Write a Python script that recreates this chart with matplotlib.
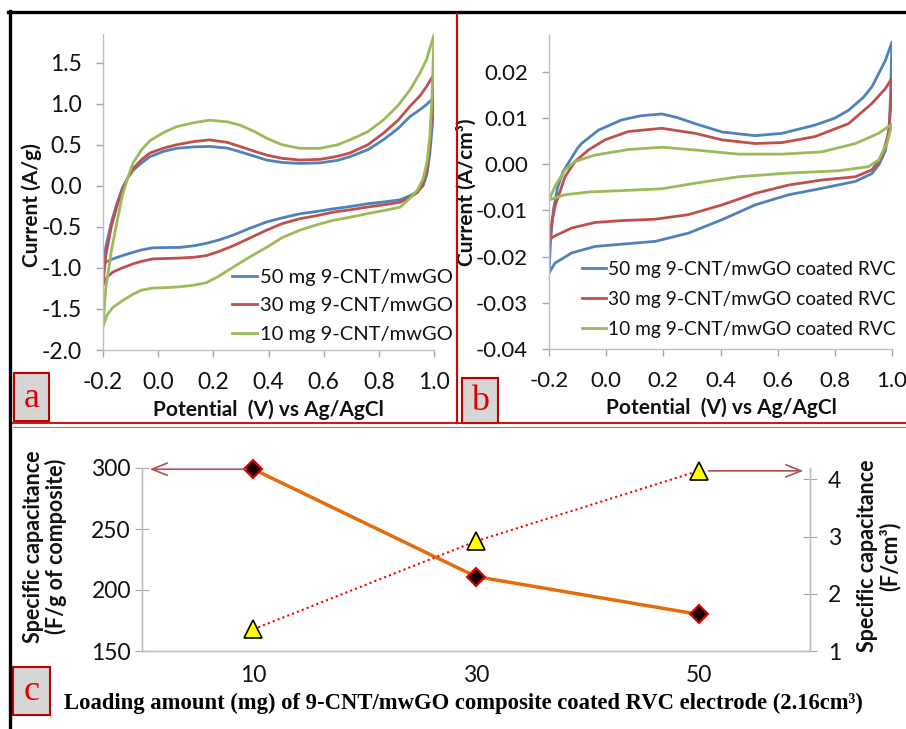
import matplotlib
matplotlib.use("Agg")
import matplotlib.pyplot as plt
from matplotlib.patches import Rectangle
from matplotlib.lines import Line2D

plt.rcParams['font.family'] = ['Lato', 'DejaVu Sans']

# ---------------- Panel a data (A/g) ----------------
a_labels = ['50 mg 9-CNT/mwGO', '30 mg 9-CNT/mwGO', '10 mg 9-CNT/mwGO']
a_up_v = [-0.2, -0.19, -0.17, -0.15, -0.13, -0.11, -0.091, -0.06, -0.03, 0.02, 0.066, 0.13, 0.187,
          0.25, 0.296, 0.35, 0.393, 0.45, 0.514, 0.586, 0.65, 0.695, 0.76, 0.816, 0.87, 0.913, 0.95, 0.973, 1.0]
a_dn_v = [0.993, 0.985, 0.975, 0.96, 0.94, 0.913, 0.877, 0.82, 0.756, 0.7, 0.635, 0.58, 0.514, 0.45,
          0.393, 0.33, 0.272, 0.22, 0.175, 0.13, 0.078, 0.03, -0.019, -0.06, -0.091, -0.13, -0.164, -0.185, -0.2]
a50_up = [-0.95, -0.75, -0.45, -0.22, -0.03, 0.1, 0.19, 0.28, 0.355, 0.42, 0.457, 0.475, 0.48, 0.46,
          0.416, 0.36, 0.314, 0.285, 0.273, 0.28, 0.31, 0.355, 0.44, 0.56, 0.70, 0.845, 0.93, 0.99, 1.08]
a50_dn = [0.7, 0.4, 0.15, 0.0, -0.07, -0.12, -0.17, -0.195, -0.22, -0.25, -0.28, -0.31, -0.34, -0.39,
          -0.44, -0.52, -0.60, -0.66, -0.70, -0.73, -0.75, -0.752, -0.755, -0.78, -0.81, -0.85, -0.89, -0.92, -0.95]
a30_up = [-1.2, -0.85, -0.5, -0.25, -0.05, 0.1, 0.21, 0.32, 0.40, 0.46, 0.50, 0.54, 0.56, 0.53,
          0.48, 0.42, 0.375, 0.335, 0.314, 0.322, 0.36, 0.40, 0.50, 0.64, 0.80, 0.97, 1.1, 1.21, 1.36]
a30_dn = [0.9, 0.5, 0.2, 0.02, -0.08, -0.14, -0.2, -0.23, -0.26, -0.29, -0.32, -0.36, -0.40, -0.46,
          -0.54, -0.64, -0.73, -0.80, -0.85, -0.87, -0.88, -0.885, -0.89, -0.92, -0.95, -1.0, -1.05, -1.11, -1.2]
a10_up = [-1.71, -1.25, -0.8, -0.45, -0.12, 0.1, 0.28, 0.44, 0.55, 0.65, 0.72, 0.77, 0.80, 0.78,
          0.74, 0.66, 0.58, 0.50, 0.457, 0.457, 0.50, 0.56, 0.66, 0.80, 0.98, 1.17, 1.38, 1.54, 1.84]
a10_dn = [1.1, 0.6, 0.3, 0.08, -0.05, -0.15, -0.26, -0.30, -0.34, -0.38, -0.42, -0.47, -0.54, -0.63,
          -0.75, -0.87, -0.99, -1.10, -1.18, -1.21, -1.23, -1.24, -1.245, -1.27, -1.32, -1.40, -1.48, -1.57, -1.71]

# ---------------- Panel b data (A/cm3) ----------------
b_labels = ['50 mg 9-CNT/mwGO coated RVC', '30 mg 9-CNT/mwGO coated RVC', '10 mg 9-CNT/mwGO coated RVC']
b50_up_v = [-0.2, -0.195, -0.185, -0.17, -0.15, -0.125, -0.1, -0.086, -0.027, 0.054, 0.12, 0.195, 0.25,
            0.311, 0.405, 0.521, 0.615, 0.731, 0.8, 0.848, 0.9, 0.93, 0.977, 1.0]
b50_up_i = [-0.0235, -0.017, -0.010, -0.005, -0.0015, 0.001, 0.0035, 0.0045, 0.0074, 0.0096, 0.0105, 0.0109,
            0.0101, 0.0088, 0.0070, 0.0062, 0.0067, 0.0085, 0.0100, 0.0117, 0.0145, 0.0168, 0.0225, 0.0265]
b50_dn_v = [0.995, 0.99, 0.977, 0.955, 0.93, 0.872, 0.755, 0.638, 0.521, 0.405, 0.288, 0.171, 0.054,
            -0.039, -0.121, -0.179, -0.2]
b50_dn_i = [0.015, 0.008, 0.003, 0.0, -0.002, -0.0037, -0.0052, -0.0066, -0.0088, -0.012, -0.0149, -0.0167,
            -0.0173, -0.0178, -0.0192, -0.0214, -0.0235]
b30_up_v = [-0.2, -0.19, -0.179, -0.144, -0.109, -0.062, -0.004, 0.078, 0.195, 0.311, 0.405, 0.521, 0.615,
            0.731, 0.848, 0.93, 0.977, 1.0]
b30_up_i = [-0.0163, -0.0125, -0.0091, -0.0027, 0.0006, 0.0031, 0.0053, 0.0071, 0.0078, 0.0067, 0.0053,
            0.0045, 0.0047, 0.006, 0.0088, 0.0132, 0.0164, 0.0187]
b30_dn_v = [0.995, 0.988, 0.965, 0.93, 0.872, 0.755, 0.638, 0.521, 0.405, 0.288, 0.171, 0.054, -0.039,
            -0.121, -0.179, -0.2]
b30_dn_i = [0.012, 0.0067, 0.0017, -0.0012, -0.0027, -0.0034, -0.0045, -0.0063, -0.0088, -0.0109, -0.0119,
            -0.0122, -0.0126, -0.0138, -0.0155, -0.0163]
b10_up_v = [-0.2, -0.179, -0.144, -0.109, -0.039, 0.078, 0.195, 0.311, 0.463, 0.615, 0.755, 0.872, 0.953, 1.0]
b10_up_i = [-0.0077, -0.0048, -0.0012, 0.0006, 0.002, 0.0032, 0.0037, 0.0031, 0.0022, 0.0022, 0.0027,
            0.0045, 0.0067, 0.0087]
b10_dn_v = [0.982, 0.953, 0.918, 0.813, 0.638, 0.463, 0.311, 0.195, 0.054, -0.062, -0.144, -0.2]
b10_dn_i = [0.0045, 0.0009, -0.0005, -0.0014, -0.0019, -0.0027, -0.0041, -0.0053, -0.0057, -0.006,
            -0.0066, -0.0077]

# ---------------- Panel c data ----------------
loading = ['10', '30', '50']
cap_per_g = [299, 211, 180]
cap_per_cm3 = [1.38, 2.92, 4.15]

cv_colors = ['#4F81BD', '#C0504D', '#9BBB59']
W, H = 906, 729

fig = plt.figure(figsize=(W / 100, H / 100), dpi=100)
fig.patch.set_facecolor('white')


def fr(x0, y0, x1, y1):
    return [x0 / W, 1 - y1 / H, (x1 - x0) / W, (y1 - y0) / H]


tick_col = '#a6a6a6'
spine_col = '#bfbfbf'
txt_col = '#111111'


def style_cv(ax, fs):
    for s in ['top', 'right']:
        ax.spines[s].set_visible(False)
    for s in ['left', 'bottom']:
        ax.spines[s].set_color(spine_col)
        ax.spines[s].set_linewidth(1.0)
    ax.tick_params(axis='both', direction='out', length=5, width=1, color=tick_col,
                   labelsize=fs, labelcolor=txt_col)
    ax.tick_params(axis='x', pad=11)
    ax.tick_params(axis='y', pad=10)
    ax.set_xlim(-0.2, 1.0)
    ax.set_xticks([-0.2, 0.0, 0.2, 0.4, 0.6, 0.8, 1.0])
    ax.set_xticklabels(['-0.2', '0.0', '0.2', '0.4', '0.6', '0.8', '1.0'])


leg_kw = dict(frameon=False, handlelength=1.25, handletextpad=0.12,
              borderpad=0, borderaxespad=0, labelcolor=txt_col)

# ---- Panel a ----
axA = fig.add_axes(fr(103, 34, 434, 350))
style_cv(axA, 16.5)
for up, dn, c, lab in [(a50_up, a50_dn, cv_colors[0], a_labels[0]),
                       (a30_up, a30_dn, cv_colors[1], a_labels[1]),
                       (a10_up, a10_dn, cv_colors[2], a_labels[2])]:
    axA.plot(a_up_v + a_dn_v, up + dn, color=c, lw=2, label=lab, solid_joinstyle='round')
axA.set_ylim(-2.0, 1.85)
axA.set_yticks([-2.0, -1.5, -1.0, -0.5, 0.0, 0.5, 1.0, 1.5])
axA.set_yticklabels(['-2.0', '-1.5', '-1.0', '-0.5', '0.0', '0.5', '1.0', '1.5'])
axA.set_ylabel('Current (A/g)', fontsize=15, fontweight='bold', color=txt_col)
axA.yaxis.set_label_coords(-0.184, 0.46)
axA.set_xlabel('Potential  (V) vs Ag/AgCl', fontsize=15, fontweight='bold', color=txt_col)
axA.xaxis.set_label_coords(0.5, -0.155)
axA.legend(loc='upper left', bbox_to_anchor=(232 / W, 1 - 269 / H), bbox_transform=fig.transFigure,
           fontsize=14.5, labelspacing=0.56, **leg_kw)

# ---- Panel b ----
axB = fig.add_axes(fr(549, 35, 892, 349))
style_cv(axB, 16)
for uv, ui, dv, di, c, lab in [(b50_up_v, b50_up_i, b50_dn_v, b50_dn_i, cv_colors[0], b_labels[0]),
                               (b30_up_v, b30_up_i, b30_dn_v, b30_dn_i, cv_colors[1], b_labels[1]),
                               (b10_up_v, b10_up_i, b10_dn_v, b10_dn_i, cv_colors[2], b_labels[2])]:
    axB.plot(uv + dv, ui + di, color=c, lw=2, label=lab, solid_joinstyle='round')
axB.set_ylim(-0.04, 0.028)
axB.set_yticks([-0.04, -0.03, -0.02, -0.01, 0.0, 0.01, 0.02])
axB.set_yticklabels(['-0.04', '-0.03', '-0.02', '-0.01', '0.00', '0.01', '0.02'])
axB.set_ylabel('Current (A/cm³)', fontsize=15, fontweight='bold', color=txt_col)
axB.yaxis.set_label_coords(-0.212, 0.5)
axB.set_xlabel('Potential  (V) vs Ag/AgCl', fontsize=15, fontweight='bold', color=txt_col)
axB.xaxis.set_label_coords(0.504, -0.153)
axB.legend(loc='upper left', bbox_to_anchor=(582 / W, 1 - 261 / H), bbox_transform=fig.transFigure,
           fontsize=13.8, labelspacing=0.68, **leg_kw)

# ---- Panel c ----
axC = fig.add_axes(fr(142, 468, 810, 651))
axC2 = axC.twinx()
xc = list(range(len(loading)))
axC.plot(xc, cap_per_g, color='#E46C0A', lw=2.5, marker='D', markersize=9,
         markerfacecolor='#1a0000', markeredgecolor='#e00000', markeredgewidth=1.5, zorder=3, clip_on=False)
axC2.plot(xc, cap_per_cm3, color='#FF0000', lw=1.5, linestyle=(0, (1, 1.5)), marker='^', markersize=13,
          markerfacecolor='#FFFF00', markeredgecolor='black', markeredgewidth=1.2, zorder=3, clip_on=False)
axC.set_xlim(-0.5, 2.5)
axC.set_ylim(150, 300)
axC2.set_ylim(1, 4.2)
axC.set_xticks(xc)
axC.set_xticklabels(loading)
axC.set_yticks([150, 200, 250, 300])
axC2.set_yticks([1, 2, 3, 4])
for ax in (axC, axC2):
    ax.spines['top'].set_visible(False)
    for s in ['left', 'right', 'bottom']:
        ax.spines[s].set_color(spine_col)
        ax.spines[s].set_linewidth(1.0)
    ax.patch.set_alpha(0)
axC.tick_params(axis='x', length=0, pad=10, labelsize=16.5, labelcolor=txt_col)
axC.tick_params(axis='y', direction='inout', length=10, color=tick_col, labelsize=16.5, pad=3,
                labelcolor=txt_col)
axC2.tick_params(axis='y', direction='inout', length=10, color=tick_col, labelsize=16.5, pad=8,
                 labelcolor=txt_col)
axC.set_ylabel('Specific capacitance\n(F/g of composite)', fontsize=15.5, fontweight='bold',
               color=txt_col, linespacing=1.05)
axC.yaxis.set_label_coords(-0.112, 0.57)
axC2.set_ylabel('Specific capacitance\n(F/cm³)', fontsize=15.5, fontweight='bold', color=txt_col,
                linespacing=1.05, rotation=90)
axC2.yaxis.set_label_coords(1.07, 0.52)
arrow_col = '#b0505a'
axC.annotate('', xy=(-0.465, cap_per_g[0]), xytext=(xc[0], cap_per_g[0]),
             arrowprops=dict(arrowstyle='->,head_length=0.55,head_width=0.22', color=arrow_col, lw=1.2,
                             mutation_scale=20, shrinkA=5, shrinkB=0))
axC2.annotate('', xy=(2.47, cap_per_cm3[2]), xytext=(xc[2], cap_per_cm3[2]),
              arrowprops=dict(arrowstyle='->,head_length=0.55,head_width=0.22', color=arrow_col, lw=1.2,
                              mutation_scale=20, shrinkA=7, shrinkB=0))
fig.text(463 / W, 1 - 703 / H,
         'Loading amount (mg) of 9-CNT/mwGO composite coated RVC electrode (2.16cm³)',
         family='Liberation Serif', fontweight='bold', fontsize=16.3, ha='center', va='center', color='black')

# ---- Decorations overlay (pixel coords) ----
ov = fig.add_axes([0, 0, 1, 1], zorder=10)
ov.set_xlim(0, W)
ov.set_ylim(H, 0)
ov.axis('off')
ov.patch.set_alpha(0)
ov.add_line(Line2D([8, W], [12, 12], color='black', lw=2.4))
ov.add_line(Line2D([10, 10], [11, H], color='black', lw=2.4))
ov.add_line(Line2D([457, 457], [14, 423], color='#e00000', lw=1.5))
ov.add_line(Line2D([13, W], [423, 423], color='#d00000', lw=1.3))
ov.add_line(Line2D([13, W], [427, 427], color='#e06060', lw=0.8))
for (x0, y0, x1, y1, letter) in [(14, 373, 49, 421, 'a'), (462, 378, 498, 423, 'b'), (13, 667, 50, 715, 'c')]:
    ov.add_patch(Rectangle((x0, y0), x1 - x0, y1 - y0, facecolor='#d6d6d6', edgecolor='#c00000', lw=1.5))
    ov.text((x0 + x1) / 2, (y0 + y1) / 2 + 1, letter, family='Liberation Serif', fontsize=26,
            color='#e00000', ha='center', va='center')

fig.savefig('out.png', dpi=100, facecolor='white')
